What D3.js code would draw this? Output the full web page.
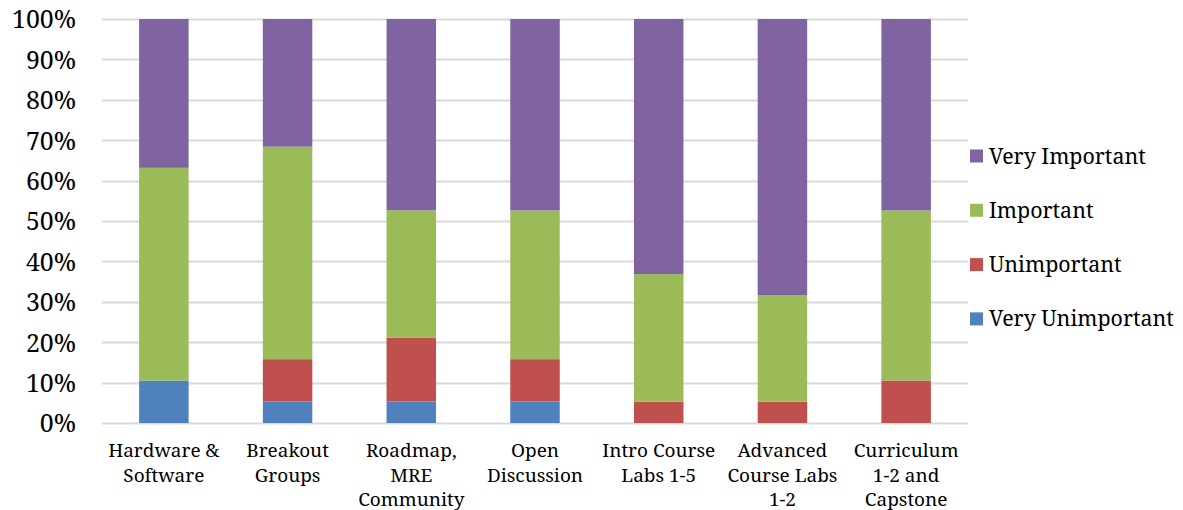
<!DOCTYPE html>
<html>
<head>
<meta charset="utf-8">
<script src="https://cdn.jsdelivr.net/npm/d3@7"></script>
<style>
  html, body { margin: 0; padding: 0; background: #fff; }
  svg { display: block; }
</style>
</head>
<body>
<svg id="chart" width="1183" height="510"></svg>
<script>
// Session categories, each split into the lines shown under the axis
const categories = [
  "Hardware & Software",
  "Breakout Groups",
  "Roadmap, MRE Community",
  "Open Discussion",
  "Intro Course Labs 1-5",
  "Advanced Course Labs 1-2",
  "Curriculum 1-2 and Capstone"
];
const categoryLines = [
  ["Hardware &", "Software"],
  ["Breakout", "Groups"],
  ["Roadmap,", "MRE", "Community"],
  ["Open", "Discussion"],
  ["Intro Course", "Labs 1-5"],
  ["Advanced", "Course Labs", "1-2"],
  ["Curriculum", "1-2 and", "Capstone"]
];

// Share of responses (%) per rating
const veryUnimportant = [10.5, 5.3, 5.3, 5.3, 0, 0, 0];
const unimportant     = [0, 10.5, 15.8, 10.5, 5.3, 5.3, 10.5];
const important       = [52.6, 52.6, 31.6, 36.8, 31.6, 26.3, 42.1];
const veryImportant   = [36.8, 31.6, 47.4, 47.4, 63.2, 68.4, 47.4];

const seriesNames = ["Very Unimportant", "Unimportant", "Important", "Very Important"];
const seriesColors = ["#4F81BD", "#C0504D", "#9BBB59", "#8064A2"];
const yTicks = [0, 0.1, 0.2, 0.3, 0.4, 0.5, 0.6, 0.7, 0.8, 0.9, 1.0];

const FONT = "'Noto Serif', 'DejaVu Serif', serif";

// Size each text group so a reference string spans a set width
const ctx = document.createElement("canvas").getContext("2d");
function fitSize(txt, width, fallback) {
  ctx.font = `40px ${FONT}`;
  const s = 40 * width / ctx.measureText(txt).width;
  return (s > 14 && s < 34) ? s : fallback;
}
const tickFont = Math.min(fitSize("100%", 64, 25), 25.5);
const catFont = fitSize("Intro Course", 113, 19);
const legendFont = fitSize("Very Unimportant", 185, 23.5);

const rows = categories.map((c, i) => ({
  category: c,
  "Very Unimportant": veryUnimportant[i],
  "Unimportant": unimportant[i],
  "Important": important[i],
  "Very Important": veryImportant[i]
}));

const stacked = d3.stack()
  .keys(seriesNames)
  .offset(d3.stackOffsetExpand)(rows);

const svg = d3.select("#chart");
const plot = { left: 102, right: 968, top: 19, bottom: 423 };

const x = d3.scaleBand()
  .domain(categories)
  .range([plot.left, plot.right])
  .paddingInner(0.6)
  .paddingOuter(0.3);

const y = d3.scaleLinear()
  .domain([0, 1])
  .range([plot.bottom, plot.top]);

// Horizontal gridlines (0% doubles as the category axis line)
svg.append("g")
  .selectAll("line")
  .data(yTicks)
  .join("line")
  .attr("x1", plot.left)
  .attr("x2", plot.right)
  .attr("y1", d => Math.round(y(d)) + 0.5)
  .attr("y2", d => Math.round(y(d)) + 0.5)
  .attr("stroke", "#D9D9D9")
  .attr("stroke-width", 2);

// Percentage axis labels
const yAxis = d3.axisLeft(y)
  .tickValues(yTicks)
  .tickFormat(d3.format(".0%"))
  .tickSize(0)
  .tickPadding(0);

const yg = svg.append("g")
  .attr("transform", `translate(${plot.left - 26},0)`)
  .call(yAxis);
yg.select(".domain").remove();
yg.selectAll("text")
  .style("font-family", FONT)
  .style("font-size", tickFont + "px")
  .attr("fill", "#000")
  .attr("dy", "0.36em");

// Stacked bars
svg.append("g")
  .selectAll("g")
  .data(stacked)
  .join("g")
  .attr("fill", (d, i) => seriesColors[i])
  .selectAll("rect")
  .data(d => d)
  .join("rect")
  .attr("x", d => x(d.data.category))
  .attr("width", x.bandwidth())
  .attr("y", d => y(d[1]))
  .attr("height", d => y(d[0]) - y(d[1]));

// Category labels, one text element per wrapped line
const labelLines = categories.flatMap((c, i) =>
  categoryLines[i].map((line, j) => ({ category: c, line, row: j })));
svg.append("g")
  .selectAll("text")
  .data(labelLines)
  .join("text")
  .attr("x", d => x(d.category) + x.bandwidth() / 2)
  .attr("y", d => 457 + d.row * 24.5)
  .attr("text-anchor", "middle")
  .attr("fill", "#000")
  .style("font-family", FONT)
  .style("font-size", catFont + "px")
  .text(d => d.line);

// Legend, top entry is the top of the stack
const legendOrder = seriesNames.map((n, i) => ({ name: n, color: seriesColors[i] })).reverse();
const legend = svg.append("g")
  .selectAll("g")
  .data(legendOrder)
  .join("g")
  .attr("transform", (d, i) => `translate(970, ${156 + i * 54.3})`);
legend.append("rect")
  .attr("x", 0)
  .attr("y", -6.5)
  .attr("width", 13)
  .attr("height", 13)
  .attr("fill", d => d.color);
legend.append("text")
  .attr("x", 19)
  .attr("y", 0)
  .attr("dy", "0.35em")
  .attr("fill", "#000")
  .style("font-family", FONT)
  .style("font-size", legendFont + "px")
  .text(d => d.name);
</script>
</body>
</html>
